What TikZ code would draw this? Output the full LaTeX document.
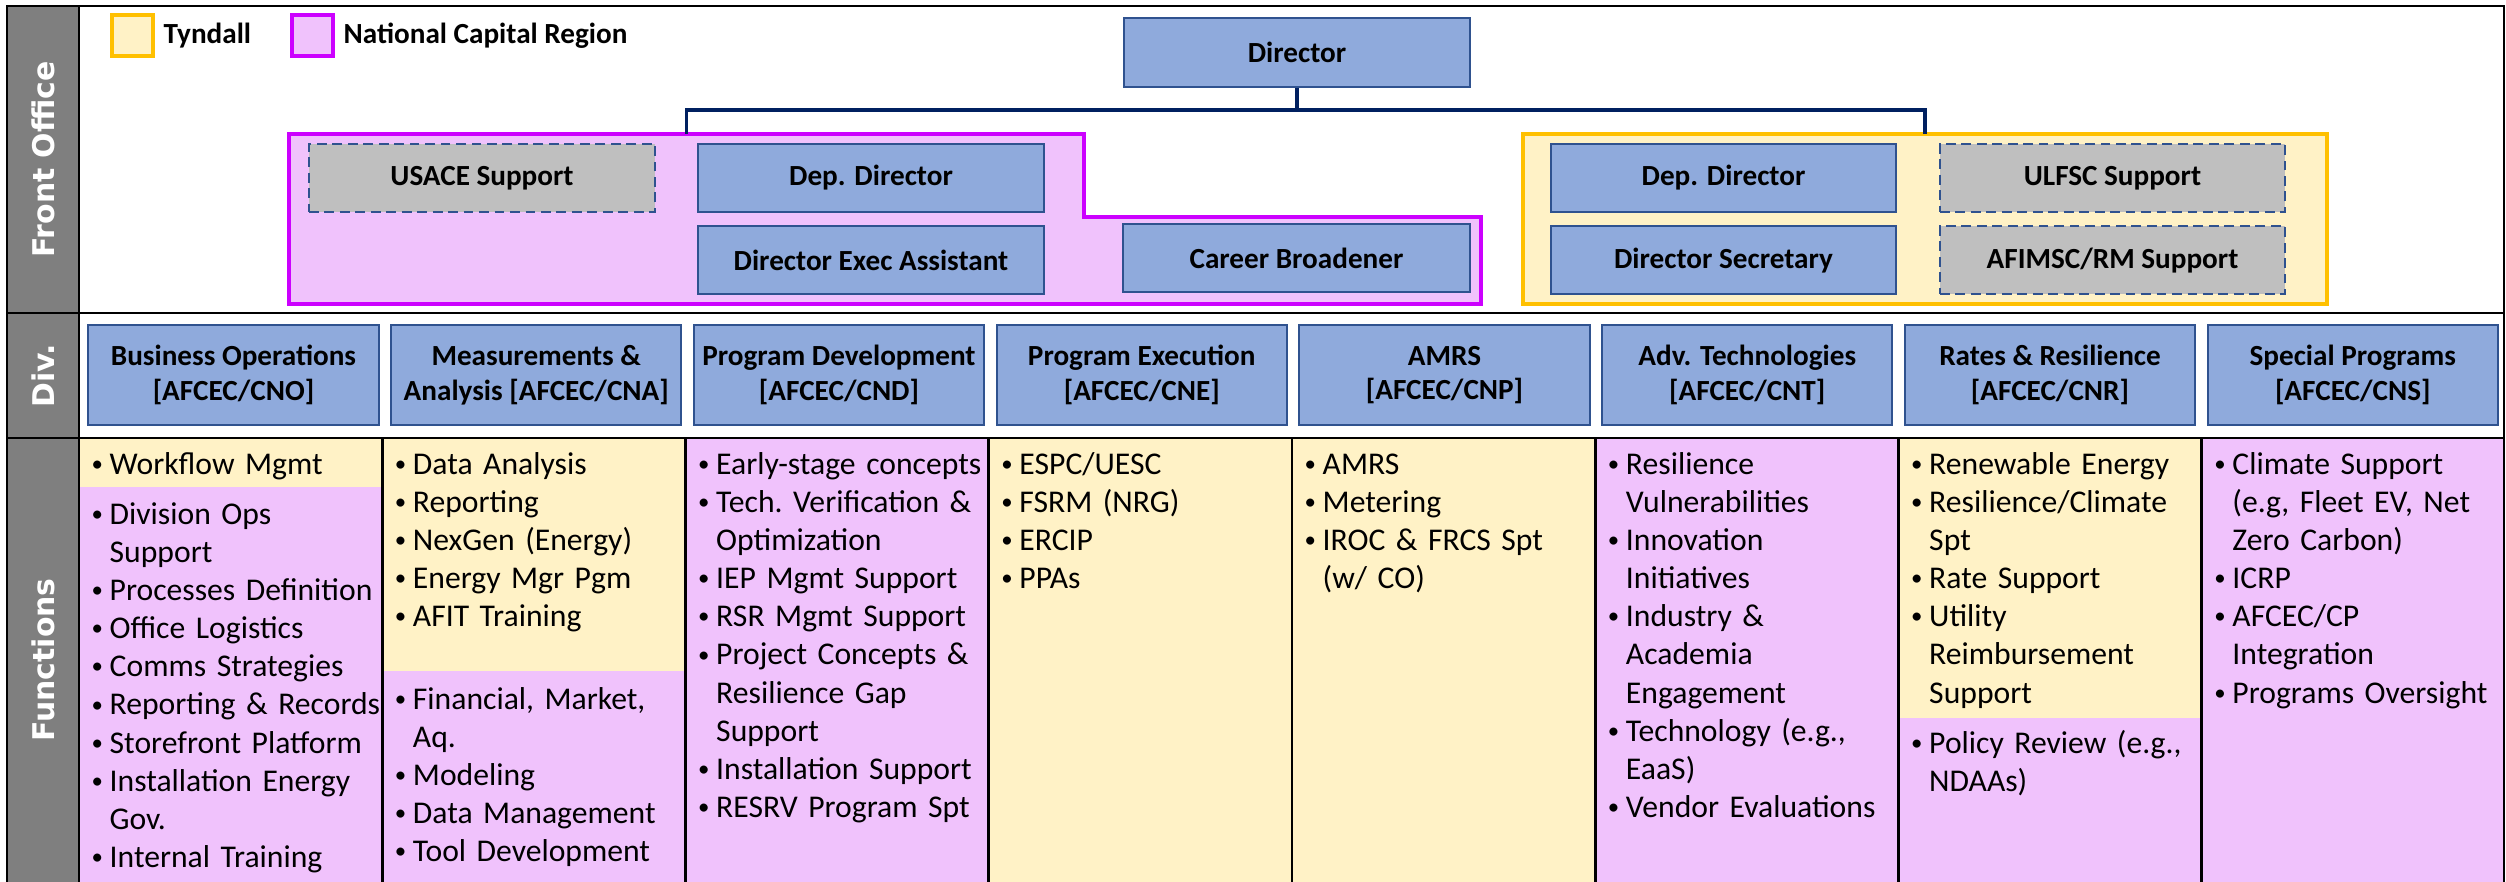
\documentclass[tikz,border=0pt]{standalone}
\usepackage{fontspec}
\setmainfont{Carlito}
\newfontfamily\bandfont{DejaVu Sans}
\usetikzlibrary{positioning}

\definecolor{boxblue}{HTML}{8FAADC}
\definecolor{boxline}{HTML}{2F528F}
\definecolor{supgray}{HTML}{BFBFBF}
\definecolor{tynfill}{HTML}{FFF2C6}
\definecolor{tynline}{HTML}{FFC000}
\definecolor{ncrfill}{HTML}{F0C2FC}
\definecolor{ncrline}{HTML}{CC00FF}
\definecolor{bandgray}{HTML}{7F7F7F}
\definecolor{connavy}{HTML}{002060}

\newcommand{\boxfont}{\fontsize{8.3}{9.9}\selectfont\bfseries}
\newcommand{\fnfont}{\fontsize{9}{10.83}\selectfont\raggedright\frenchspacing}
\newcommand{\fnbullet}{\raisebox{0.09em}{\fontsize{6.5}{6.5}\selectfont\textbullet}}
\newcommand{\fitem}[1]{\noindent\hangindent=0.2cm\hangafter=1\makebox[0.2cm][l]{\hspace{0.02cm}\fnbullet}#1\par}

\tikzset{
	fobox/.style={draw=boxline, fill=boxblue, line width=0.6pt, minimum width=3.46cm, minimum height=0.68cm, font=\boxfont, inner sep=0pt},
	supbox/.style={fobox, fill=supgray, dash pattern=on 2.8pt off 1.6pt},
	divbox/.style={fobox, minimum width=2.9cm, minimum height=1cm, align=center},
	ncrzone/.style={draw=ncrline, fill=ncrfill, line width=1.1pt},
	tynzone/.style={draw=tynline, fill=tynfill, line width=1.1pt},
	conn/.style={draw=connavy, line width=0.9pt},
	frame/.style={line width=0.8pt},
	bandlabel/.style={rotate=90, text=white, font=\bandfont\bfseries\fontsize{8.5}{10}\selectfont},
	fnlist/.style={anchor=base west, text width=3.2cm, inner sep=0pt, font=\fnfont},
}

\begin{document}
\begin{tikzpicture}[x=0.01cm, y=-0.01cm]
	\useasboundingbox (0,0) rectangle (2506,882);
	% bands and function cells
	\fill[bandgray] (7,6) rectangle (79,882);
	\fill[tynfill] (79,438) rectangle (382.25,487);
	\fill[ncrfill] (79,487) rectangle (382.25,882);
	\fill[tynfill] (382.25,438) rectangle (685.5,671);
	\fill[ncrfill] (382.25,671) rectangle (685.5,882);
	\fill[ncrfill] (685.5,438) rectangle (988.75,882);
	\fill[tynfill] (988.75,438) rectangle (1595.25,882);
	\fill[ncrfill] (1595.25,438) rectangle (1898.5,882);
	\fill[tynfill] (1898.5,438) rectangle (2201.75,718);
	\fill[ncrfill] (1898.5,718) rectangle (2201.75,882);
	\fill[ncrfill] (2201.75,438) rectangle (2504,882);
	\draw[frame] (7,882) -- (7,6) -- (2504,6) -- (2504,882);
	\draw[frame] (79,6) -- (79,882);
	\draw[frame] (7,313) -- (2504,313);
	\draw[frame] (7,438) -- (2504,438);
	\foreach \i in {1,...,7}
	{
		\draw[frame] ({79+303.25*\i},438) -- ({79+303.25*\i},882);
	}
	\node[bandlabel] (lblfo) at (43,159.5) {Front Office};
	\node[bandlabel] (lbldiv) at (43,375.5) {Div.};
	\node[bandlabel] (lblfn) at (43,660) {Functions};

	% legend
	\node[tynzone, minimum size=0.41cm, inner sep=0pt] (legtyn) at (132.5,35.5) {};
	\node[right=0.08cm of legtyn, font=\boxfont, inner sep=0pt] (legtyntxt) {Tyndall};
	\node[ncrzone, minimum size=0.41cm, inner sep=0pt] (legncr) at (312.5,35.5) {};
	\node[right=0.08cm of legncr, font=\boxfont, inner sep=0pt] (legncrtxt) {National Capital Region};

	% front office
	\draw[ncrzone] (289,134) -- (1084,134) -- (1084,217) -- (1481,217) -- (1481,304) -- (289,304) -- cycle;
	\coordinate (ncrtop) at (686.5,134);
	\draw[tynzone] (1523,134) rectangle (2327,304);
	\coordinate (tyntop) at (1925,134);

	\node[fobox, minimum height=0.69cm] (dir) at (1297,52.5) {Director};
	\node[supbox] (usace) at (482,178) {USACE Support};
	\node[fobox] (ddl) at (871,178) {Dep. Director};
	\node[fobox, below=0.12cm of ddl] (dea) {Director Exec Assistant};
	\node[fobox] (cb) at (1296.5,258) {Career Broadener};
	\node[fobox, minimum width=3.45cm] (ddr) at (1723.5,178) {Dep. Director};
	\node[fobox, minimum width=3.45cm, below=0.12cm of ddr] (ds) {Director Secretary};
	\node[supbox, minimum width=3.45cm] (ulfsc) at (2112.5,178) {ULFSC Support};
	\node[supbox, minimum width=3.45cm, below=0.12cm of ulfsc] (afimsc) {AFIMSC/RM Support};

	\coordinate (bus) at (1297,110);
	\draw[conn] (dir.south) -- (bus) -| (ncrtop);
	\draw[conn] (bus) -| (tyntop);

	% divisions
	\foreach \lbl [count=\i] in {{Business Operations\\{[AFCEC/CNO]}}, {Measurements \&\\Analysis [AFCEC/CNA]}, {Program Development\\{[AFCEC/CND]}}, {Program Execution\\{[AFCEC/CNE]}}, {AMRS\\{[AFCEC/CNP]}}, {Adv. Technologies\\{[AFCEC/CNT]}}, {Rates \& Resilience\\{[AFCEC/CNR]}}, {Special Programs\\{[AFCEC/CNS]}}}
	{
		\node[divbox] (div\i) at ({233.5+302.75*(\i-1)},375) {\lbl};
	}

	% functions
	\node[fnlist] (fn1a) at (89,474.5) {\fitem{Workflow Mgmt}};
	\node[fnlist] (fn1b) at (89,524.5) {\fitem{Division Ops\newline Support}\fitem{Processes Definition}\fitem{Office Logistics}\fitem{Comms Strategies}\fitem{Reporting \& Records}\fitem{Storefront Platform}\fitem{Installation Energy\newline Gov.}\fitem{Internal Training}};
	\node[fnlist] (fn2a) at (392.25,474.5) {\fitem{Data Analysis}\fitem{Reporting}\fitem{NexGen (Energy)}\fitem{Energy Mgr Pgm}\fitem{AFIT Training}};
	\node[fnlist] (fn2b) at (392.25,709) {\fitem{Financial, Market,\newline Aq.}\fitem{Modeling}\fitem{Data Management}\fitem{Tool Development}};
	\node[fnlist] (fn3) at (695.5,474.5) {\fitem{Early-stage concepts}\fitem{Tech. Verification \&\newline Optimization}\fitem{IEP Mgmt Support}\fitem{RSR Mgmt Support}\fitem{Project Concepts \&\newline Resilience Gap\newline Support}\fitem{Installation Support}\fitem{RESRV Program Spt}};
	\node[fnlist] (fn4) at (998.75,474.5) {\fitem{ESPC/UESC}\fitem{FSRM (NRG)}\fitem{ERCIP}\fitem{PPAs}};
	\node[fnlist] (fn5) at (1302,474.5) {\fitem{AMRS}\fitem{Metering}\fitem{IROC \& FRCS Spt\newline (w/ CO)}};
	\node[fnlist] (fn6) at (1605.25,474.5) {\fitem{Resilience\newline Vulnerabilities}\fitem{Innovation\newline Initiatives}\fitem{Industry \&\newline Academia\newline Engagement}\fitem{Technology (e.g.,\newline EaaS)}\fitem{Vendor Evaluations}};
	\node[fnlist] (fn7a) at (1908.5,474.5) {\fitem{Renewable Energy}\fitem{Resilience/Climate\newline Spt}\fitem{Rate Support}\fitem{Utility\newline Reimbursement\newline Support}};
	\node[fnlist] (fn7b) at (1908.5,753.5) {\fitem{Policy Review (e.g.,\newline NDAAs)}};
	\node[fnlist] (fn8) at (2211.75,474.5) {\fitem{Climate Support\newline (e.g, Fleet EV, Net\newline Zero Carbon)}\fitem{ICRP}\fitem{AFCEC/CP\newline Integration}\fitem{Programs Oversight}};
\end{tikzpicture}
\end{document}
